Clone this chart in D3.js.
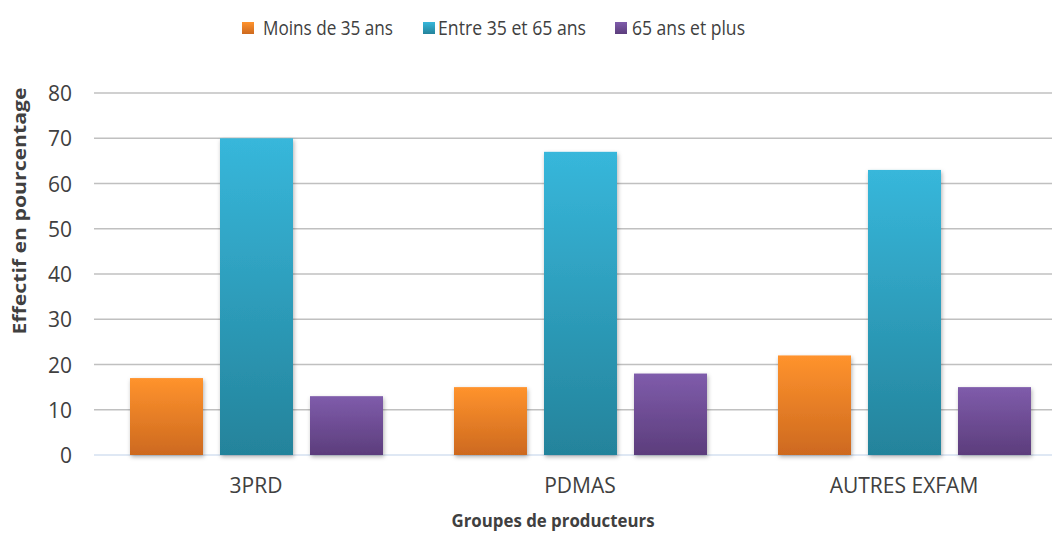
<!DOCTYPE html>
<html lang="fr">
<head>
	<meta charset="utf-8">
	<title>Groupes de producteurs</title>
	<script src="https://d3js.org/d3.v7.min.js"></script>
	<style>
		body { margin: 0; background: #fff; }
		text { font-family: "Open Sans", sans-serif; fill: #404040; }
	</style>
</head>
<body>
	<div id="chart"></div>
<script>
	// Data
	var categories = ["3PRD", "PDMAS", "AUTRES EXFAM"];
	var series = ["Moins de 35 ans", "Entre 35 et 65 ans", "65 ans et plus"];
	var moins35 = [17, 15, 22];
	var entre35_65 = [70, 67, 63];
	var plus65 = [13, 18, 15];
	var yTicks = [0, 10, 20, 30, 40, 50, 60, 70, 80];

	var seriesValues = [moins35, entre35_65, plus65];
	var colorsTop = ["#ff932d", "#37b7db", "#7f5cab"];
	var colorsBottom = ["#cd691f", "#24839b", "#5c3d7c"];

	var w = 1052, h = 533;

	var svg = d3.select("#chart")
		.append("svg")
		.attr("width", w)
		.attr("height", h);

	var defs = svg.append("defs");

	// vertical gradients for each series
	series.forEach(function(s, i) {
		var g = defs.append("linearGradient")
			.attr("id", "grad" + i)
			.attr("x1", 0).attr("y1", 0)
			.attr("x2", 0).attr("y2", 1);
		g.append("stop").attr("offset", "0%").attr("stop-color", colorsTop[i]);
		g.append("stop").attr("offset", "100%").attr("stop-color", colorsBottom[i]);
	});

	// small shadow under bars
	var shadow = defs.append("filter")
		.attr("id", "shadow")
		.attr("x", "-20%").attr("y", "-10%")
		.attr("width", "140%").attr("height", "130%");
	shadow.append("feDropShadow")
		.attr("dx", 1).attr("dy", 2)
		.attr("stdDeviation", 2)
		.attr("flood-color", "#000")
		.attr("flood-opacity", 0.3);

	// scales
	var x0 = d3.scaleBand()
		.domain(categories)
		.range([94, 1066]);

	var x1 = d3.scaleBand()
		.domain(series)
		.range([36, 289])
		.paddingInner(17 / 90);

	var y = d3.scaleLinear()
		.domain([0, 80])
		.range([455, 93]);

	// gridlines
	svg.append("g")
		.selectAll("line")
		.data(yTicks.slice(1))
		.enter()
		.append("line")
		.attr("x1", 94)
		.attr("x2", 1066)
		.attr("y1", function(d) { return y(d); })
		.attr("y2", function(d) { return y(d); })
		.attr("stroke", "#c0c0c0")
		.attr("stroke-width", 1.5);

	// baseline
	svg.append("line")
		.attr("x1", 94)
		.attr("x2", 1066)
		.attr("y1", y(0))
		.attr("y2", y(0))
		.attr("stroke", "#d4e1f1")
		.attr("stroke-width", 1.5);

	// y axis labels
	var yAxis = d3.axisLeft(y)
		.tickValues(yTicks)
		.tickSize(0)
		.tickPadding(0);

	svg.append("g")
		.attr("transform", "translate(72,0)")
		.call(yAxis)
		.call(function(g) { g.select(".domain").remove(); })
		.selectAll("text")
		.attr("font-size", "21px")
		.attr("font-family", "'Open Sans', sans-serif")
		.attr("fill", "#404040")
		.attr("dy", "0.36em");

	// x axis labels
	var xAxis = d3.axisBottom(x0)
		.tickSize(0)
		.tickPadding(0);

	svg.append("g")
		.attr("transform", "translate(0,478)")
		.call(xAxis)
		.call(function(g) { g.select(".domain").remove(); })
		.selectAll("text")
		.attr("font-size", "21px")
		.attr("font-family", "'Open Sans', sans-serif")
		.attr("fill", "#404040");

	// bars
	var groups = svg.selectAll(".group")
		.data(categories)
		.enter()
		.append("g")
		.attr("class", "group")
		.attr("transform", function(d) { return "translate(" + x0(d) + ",0)"; });

	groups.selectAll("rect")
		.data(function(d, ci) {
			return series.map(function(s, si) {
				return { series: s, index: si, value: seriesValues[si][ci] };
			});
		})
		.enter()
		.append("rect")
		.attr("x", function(d) { return x1(d.series); })
		.attr("y", function(d) { return y(d.value); })
		.attr("width", x1.bandwidth())
		.attr("height", function(d) { return y(0) - y(d.value); })
		.attr("fill", function(d) { return "url(#grad" + d.index + ")"; })
		.attr("filter", "url(#shadow)");

	// legend
	var legendX = [242, 423, 615];
	var legendTextX = [263, 438, 632];
	var legendTextW = [130, 148, 113];
	var legend = svg.selectAll(".legend")
		.data(series)
		.enter()
		.append("g")
		.attr("class", "legend");

	legend.append("rect")
		.attr("x", function(d, i) { return legendX[i]; })
		.attr("y", 22)
		.attr("width", 12)
		.attr("height", 12)
		.attr("fill", function(d, i) { return "url(#grad" + i + ")"; });

	legend.append("text")
		.attr("x", function(d, i) { return legendTextX[i]; })
		.attr("y", 35)
		.attr("font-size", "19.5px")
		.attr("textLength", function(d, i) { return legendTextW[i]; })
		.attr("lengthAdjust", "spacingAndGlyphs")
		.text(function(d) { return d; });

	// axis titles
	svg.append("text")
		.attr("text-anchor", "middle")
		.attr("transform", "translate(26,211) rotate(-90)")
		.attr("font-size", "18px")
		.attr("font-weight", "bold")
		.attr("textLength", 247)
		.attr("lengthAdjust", "spacingAndGlyphs")
		.text("Effectif en pourcentage");

	svg.append("text")
		.attr("text-anchor", "middle")
		.attr("x", 553)
		.attr("y", 527)
		.attr("font-size", "18px")
		.attr("font-weight", "bold")
		.attr("textLength", 203)
		.attr("lengthAdjust", "spacingAndGlyphs")
		.text("Groupes de producteurs");
</script>
</body>
</html>
